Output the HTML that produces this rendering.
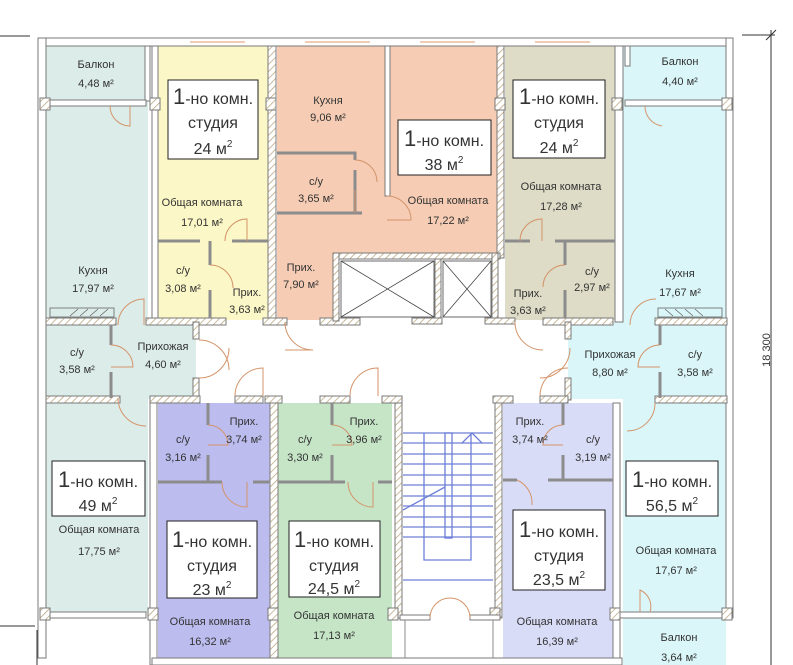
<!DOCTYPE html>
<html><head><meta charset="utf-8"><style>
html,body{margin:0;padding:0;background:#fff;width:793px;height:665px;overflow:hidden}
svg text{font-family:"Liberation Sans","DejaVu Sans",sans-serif;fill:#333}
.s{font-size:11px;text-anchor:middle}
.b{font-size:16px;text-anchor:middle;fill:#222}
.w{fill:#fff;stroke:#7a7a7a;stroke-width:1}
.h{fill:url(#hatch);stroke:#7a7a7a;stroke-width:1}
.p{stroke:#8c8c8c;stroke-width:3;fill:none}
.d{stroke:#d4946a;stroke-width:1;fill:none}
.st{stroke:#6e7fd8;stroke-width:1.3;fill:none}
</style></head><body>
<svg width="793" height="665" viewBox="0 0 793 665" xmlns="http://www.w3.org/2000/svg">
<defs>
<pattern id="hatch" width="5" height="5" patternUnits="userSpaceOnUse" patternTransform="rotate(45)">
<rect width="5" height="5" fill="#fff"/><line x1="0" y1="0" x2="0" y2="5" stroke="#b7a37a" stroke-width="1.5"/>
</pattern>
</defs>
<rect x="46" y="46" width="102" height="566" fill="#dcece9"/>
<rect x="110" y="322" width="86" height="77" fill="#dcece9"/>
<rect x="158" y="46" width="110" height="274" fill="#fbf7c6"/>
<rect x="277" y="46" width="221" height="210" fill="#f6cdb4"/>
<rect x="277" y="250" width="58" height="70" fill="#f6cdb4"/>
<rect x="505" y="46" width="110" height="274" fill="#dedbc6"/>
<rect x="623" y="46" width="103" height="566" fill="#daf6f9"/>
<rect x="568" y="322" width="92" height="77" fill="#daf6f9"/>
<rect x="623" y="612" width="103" height="53" fill="#daf6f9"/>
<rect x="158" y="403" width="112" height="262" fill="#bcbcef"/>
<rect x="278" y="403" width="114" height="257" fill="#c6e5c7"/>
<rect x="503" y="403" width="110" height="262" fill="#d9dcf7"/>

<rect class="w" x="38" y="38" width="692" height="8"/>
<rect class="w" x="38" y="38" width="8" height="620"/>
<rect class="w" x="726" y="38" width="7" height="580"/>
<g stroke="#e09a6e" stroke-width="1"><line x1="190" y1="42" x2="245" y2="42"/><line x1="305" y1="42" x2="370" y2="42"/><line x1="420" y1="42" x2="475" y2="42"/><line x1="535" y1="42" x2="590" y2="42"/><line x1="68" y1="103" x2="108" y2="103"/><line x1="665" y1="103" x2="705" y2="103"/><line x1="75" y1="615" x2="130" y2="615"/><line x1="665" y1="615" x2="705" y2="615"/></g>
<rect class="w" x="145" y="46" width="5" height="55"/>
<rect class="w" x="152" y="46" width="6" height="276"/>
<rect class="h" x="268" y="46" width="8" height="276"/>
<rect class="w" x="385" y="46" width="5" height="150"/>
<rect class="h" x="497" y="46" width="7" height="212"/>
<rect class="w" x="615" y="46" width="8" height="276"/>
<rect class="w" x="625" y="46" width="5" height="20"/>
<rect class="w" x="46" y="100" width="100" height="6"/>
<rect class="w" x="625" y="100" width="101" height="6"/>
<rect class="h" x="40" y="98" width="10" height="12"/><rect class="h" x="150" y="98" width="10" height="12"/><rect class="h" x="266" y="98" width="10" height="12"/><rect class="h" x="495" y="98" width="10" height="12"/><rect class="h" x="612" y="98" width="10" height="12"/><rect class="h" x="722" y="98" width="10" height="12"/>
<rect class="h" x="46" y="318" width="70" height="7"/>
<rect class="h" x="146" y="318" width="80" height="7"/>
<rect class="h" x="263" y="318" width="24" height="7"/>
<rect class="h" x="320" y="318" width="40" height="7"/>
<rect class="h" x="333" y="253" width="167" height="6"/>
<rect class="h" x="333" y="253" width="6" height="68"/>
<rect class="h" x="435" y="259" width="6" height="62"/>
<rect class="h" x="492" y="253" width="6" height="68"/>
<rect class="h" x="412" y="318" width="30" height="6"/>
<rect class="h" x="485" y="318" width="30" height="6"/>
<rect class="h" x="543" y="318" width="70" height="7"/>
<rect class="h" x="655" y="318" width="72" height="7"/>
<rect class="h" x="193" y="322" width="6" height="17"/>
<rect class="h" x="565" y="322" width="6" height="17"/>
<rect class="h" x="193" y="378" width="6" height="22"/>
<rect class="h" x="565" y="378" width="6" height="22"/>
<rect class="h" x="46" y="396" width="74" height="7"/>
<rect class="h" x="150" y="396" width="50" height="7"/>
<rect class="h" x="235" y="396" width="28" height="7"/>
<rect class="h" x="265" y="396" width="17" height="7"/>
<rect class="h" x="320" y="396" width="30" height="7"/>
<rect class="h" x="382" y="396" width="20" height="7"/>
<rect class="h" x="493" y="396" width="20" height="7"/>
<rect class="h" x="540" y="396" width="28" height="7"/>
<rect class="h" x="655" y="396" width="72" height="7"/>
<rect class="w" x="150" y="403" width="7" height="262"/>
<rect class="h" x="270" y="403" width="8" height="262"/>
<rect class="h" x="395" y="403" width="7" height="215"/>
<rect class="h" x="495" y="403" width="7" height="215"/>
<rect class="w" x="613" y="403" width="7" height="262"/>
<rect class="w" x="46" y="612" width="100" height="6"/>
<rect class="w" x="620" y="612" width="106" height="6"/>
<rect class="h" x="40" y="608" width="10" height="12"/><rect class="h" x="148" y="608" width="10" height="12"/><rect class="h" x="268" y="608" width="10" height="12"/><rect class="h" x="388" y="608" width="10" height="12"/><rect class="h" x="490" y="608" width="10" height="12"/><rect class="h" x="610" y="608" width="10" height="12"/><rect class="h" x="722" y="608" width="10" height="12"/>
<rect class="w" x="400" y="615" width="30" height="5"/><rect class="w" x="470" y="615" width="30" height="5"/>
<line x1="405" y1="620" x2="405" y2="665" stroke="#8c8c8c"/><line x1="493" y1="620" x2="493" y2="665" stroke="#8c8c8c"/>
<rect class="w" x="152" y="658" width="470" height="7"/>

<g class="p">
<path d="M158 241H200M232 241H268"/><path d="M210 241V265M210 290V318"/>
<path d="M277 153H355V160M277 213H362M355 170V213"/>
<path d="M505 241H530M555 241H615"/><path d="M565 241V265M565 290V318"/>
<path d="M111 325V345M111 372V398"/><path d="M660 325V345M660 372V398"/>
<path d="M208 403V425M208 455V482M158 482H222M253 482H270"/>
<path d="M332 403V425M332 455V482M278 482H345M378 482H392"/>
<path d="M563 403V425M563 455V480M503 480H517M548 480H613"/>
</g>
<g stroke="#444" stroke-width="0.8"><line x1="341" y1="261" x2="434" y2="317"/><line x1="434" y1="261" x2="341" y2="317"/><line x1="443" y1="261" x2="491" y2="317"/><line x1="491" y1="261" x2="443" y2="317"/><rect x="341" y="261" width="93" height="56" fill="none"/><rect x="443" y="261" width="48" height="56" fill="none"/></g>
<g stroke="#666" stroke-width="0.8" fill="none"><rect x="50" y="308" width="64" height="9"/><rect x="658" y="308" width="64" height="9"/><path d="M70 316l8-7M80 316l8-7M90 316l8-7M100 316l8-7M665 309l8 7M675 309l8 7M685 309l8 7M695 309l8 7"/></g>
<g class="st">
<path d="M403 433H493M403 443H493M403 454H493M403 464H493M403 475H493M403 485H493M403 496H493M403 506H493M403 517H493M403 527H493M403 537H493"/>
<rect x="445" y="433" width="7" height="105"/>
<path d="M424 433V560H471V433"/><path d="M403 510L445 487"/><path d="M462 443L472 433L482 443"/>
<path d="M403 580H493"/>
</g>
<g class="d">
<path d="M110 106A20 20 0 0 0 130 126V106"/>
<path d="M645 106A20 20 0 0 0 662 126"/>
<path d="M225 241A22 22 0 0 1 247 219V241"/>
<path d="M210 265A23 23 0 0 1 233 288"/>
<path d="M355 160A22 22 0 0 1 377 182"/><path d="M355 190V213"/>
<path d="M387 196A24 24 0 0 1 411 220 L387 220"/>
<path d="M520 241A22 22 0 0 1 542 219V241"/>
<path d="M565 265A22 22 0 0 0 543 287"/>
<path d="M118 325A26 26 0 0 1 144 299V325"/>
<path d="M111 345A22 22 0 0 1 133 367H111"/>
<path d="M118 398A28 28 0 0 0 146 426"/>
<path d="M199 340A30 30 0 0 1 229 370"/><path d="M199 378A30 30 0 0 0 229 348"/>
<path d="M235 396A28 28 0 0 1 263 368V396"/>
<path d="M350 396A28 28 0 0 1 378 368V396"/>
<path d="M285 322A28 28 0 0 0 313 350H285"/>
<path d="M540 396A28 28 0 0 1 568 368"/><path d="M515 322A28 28 0 0 0 543 350"/><path d="M540 378A30 30 0 0 0 570 348"/>
<path d="M630 325A26 26 0 0 1 656 299"/>
<path d="M660 345A22 22 0 0 0 638 367H660"/>
<path d="M655 403A28 28 0 0 1 627 431"/>
<path d="M208 425A20 20 0 0 1 228 445H208"/><path d="M222 482A25 25 0 0 0 247 507V482"/>
<path d="M332 425A20 20 0 0 1 352 445H332"/><path d="M348 482A25 25 0 0 0 373 507V482"/>
<path d="M563 425A20 20 0 0 0 543 445H563"/><path d="M517 480A25 25 0 0 1 532 505"/>
<path d="M430 618A20 20 0 0 1 450 598"/><path d="M470 618A20 20 0 0 0 450 598"/>
<path d="M640 612V590A18 18 0 0 1 650 612"/>
</g>
<g fill="#fff" stroke="#222" stroke-width="1">
<rect x="168" y="80" width="90" height="79"/><rect x="398" y="120" width="93" height="55"/><rect x="513" y="80" width="92" height="78"/>
<rect x="52" y="461" width="93" height="55"/><rect x="167" y="521" width="90" height="77"/><rect x="289" y="521" width="91" height="76"/>
<rect x="513" y="510" width="92" height="80"/><rect x="626" y="461" width="92" height="55"/>
</g>
<g class="b">
<text x="213" y="104"><tspan font-size="22">1</tspan>-но комн.</text><text x="213" y="128">студия</text><text x="213" y="154">24 м<tspan font-size="10" dy="-7">2</tspan></text>
<text x="444" y="146"><tspan font-size="22">1</tspan>-но комн.</text><text x="444" y="170">38 м<tspan font-size="10" dy="-7">2</tspan></text>
<text x="559" y="104"><tspan font-size="22">1</tspan>-но комн.</text><text x="559" y="128">студия</text><text x="559" y="153">24 м<tspan font-size="10" dy="-7">2</tspan></text>
<text x="98" y="487"><tspan font-size="22">1</tspan>-но комн.</text><text x="98" y="511">49 м<tspan font-size="10" dy="-7">2</tspan></text>
<text x="212" y="547"><tspan font-size="22">1</tspan>-но комн.</text><text x="212" y="571">студия</text><text x="212" y="595">23 м<tspan font-size="10" dy="-7">2</tspan></text>
<text x="334" y="547"><tspan font-size="22">1</tspan>-но комн.</text><text x="334" y="571">студия</text><text x="334" y="594">24,5 м<tspan font-size="10" dy="-7">2</tspan></text>
<text x="559" y="537"><tspan font-size="22">1</tspan>-но комн.</text><text x="559" y="561">студия</text><text x="559" y="585">23,5 м<tspan font-size="10" dy="-7">2</tspan></text>
<text x="672" y="487"><tspan font-size="22">1</tspan>-но комн.</text><text x="672" y="511">56,5 м<tspan font-size="10" dy="-7">2</tspan></text>
</g>
<g class="s">
<text x="96" y="68">Балкон</text><text x="96" y="87">4,48 м²</text>
<text x="680" y="65">Балкон</text><text x="680" y="85">4,40 м²</text>
<text x="93" y="274">Кухня</text><text x="93" y="292">17,97 м²</text>
<text x="680" y="277">Кухня</text><text x="680" y="296">17,67 м²</text>
<text x="328" y="104">Кухня</text><text x="328" y="121">9,06 м²</text>
<text x="316" y="185">с/у</text><text x="316" y="202">3,65 м²</text>
<text x="301" y="271">Прих.</text><text x="301" y="288">7,90 м²</text>
<text x="202" y="206">Общая комната</text><text x="202" y="226">17,01 м²</text>
<text x="183" y="274">с/у</text><text x="183" y="292">3,08 м²</text>
<text x="247" y="296">Прих.</text><text x="247" y="313">3,63 м²</text>
<text x="448" y="204">Общая комната</text><text x="448" y="224">17,22 м²</text>
<text x="561" y="190">Общая комната</text><text x="561" y="210">17,28 м²</text>
<text x="592" y="275">с/у</text><text x="592" y="291">2,97 м²</text>
<text x="528" y="297">Прих.</text><text x="528" y="314">3,63 м²</text>
<text x="77" y="356">с/у</text><text x="77" y="373">3,58 м²</text>
<text x="163" y="350">Прихожая</text><text x="163" y="368">4,60 м²</text>
<text x="610" y="358">Прихожая</text><text x="610" y="376">8,80 м²</text>
<text x="695" y="358">с/у</text><text x="695" y="376">3,58 м²</text>
<text x="183" y="443">с/у</text><text x="183" y="461">3,16 м²</text>
<text x="244" y="425">Прих.</text><text x="244" y="443">3,74 м²</text>
<text x="305" y="443">с/у</text><text x="305" y="461">3,30 м²</text>
<text x="364" y="425">Прих.</text><text x="364" y="443">3,96 м²</text>
<text x="530" y="425">Прих.</text><text x="530" y="443">3,74 м²</text>
<text x="593" y="443">с/у</text><text x="593" y="461">3,19 м²</text>
<text x="99" y="533">Общая комната</text><text x="99" y="555">17,75 м²</text>
<text x="210" y="625">Общая комната</text><text x="210" y="645">16,32 м²</text>
<text x="334" y="619">Общая комната</text><text x="334" y="639">17,13 м²</text>
<text x="557" y="625">Общая комната</text><text x="557" y="645">16,39 м²</text>
<text x="676" y="554">Общая комната</text><text x="676" y="574">17,67 м²</text>
<text x="679" y="641">Балкон</text><text x="679" y="661">3,64 м²</text>
</g>
<g stroke="#333" stroke-width="1" fill="none">
<line x1="0" y1="36" x2="30" y2="36"/><line x1="0" y1="626" x2="35" y2="626"/>
<line x1="37" y1="630" x2="37" y2="665"/>
<line x1="742" y1="35" x2="775" y2="35"/><line x1="771" y1="30" x2="771" y2="665"/><line x1="766" y1="40" x2="776" y2="30"/>
</g>
<text x="770" y="350" font-size="11" text-anchor="middle" transform="rotate(-90 770 350)" style="fill:#333">18 300</text>
</svg>
</body></html>
